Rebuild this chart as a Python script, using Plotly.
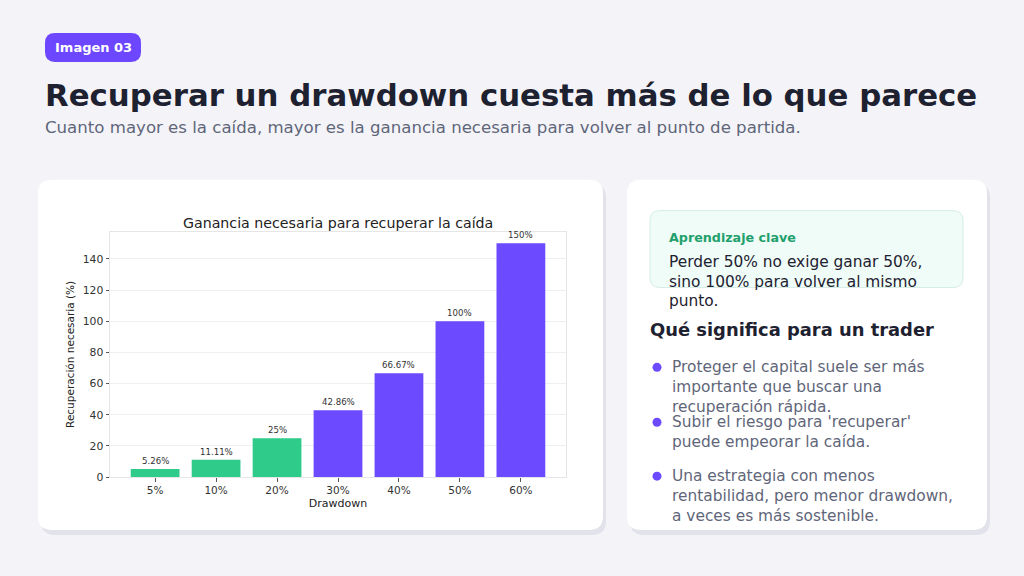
import plotly.graph_objects as go

W, H = 1024, 576
H_EFF = 570  # rendered vertical extent of the paper in the screenshot
FONT = "DejaVu Sans"

# ---- data ----
drawdown = ["5%", "10%", "20%", "30%", "40%", "50%", "60%"]
recovery = [5.26, 11.11, 25, 42.86, 66.67, 100, 150]
labels = ["5.26%", "11.11%", "25%", "42.86%", "66.67%", "100%", "150%"]
y_ticks = [0, 20, 40, 60, 80, 100, 120, 140]

GREEN = "#2ecb8b"
PURPLE = "#6c4aff"
colors = [GREEN if v < 30 else PURPLE for v in recovery]

def px(x):
    return x / W

def py(y):
    return 1 - y / H_EFF

def rrect(x0, y0, x1, y1, r):
    X0, X1 = px(x0), px(x1)
    Y0, Y1 = py(y0), py(y1)
    rx, ry = r / W, r / H_EFF
    return (f"M {X0+rx},{Y0} L {X1-rx},{Y0} Q {X1},{Y0} {X1},{Y0-ry} "
            f"L {X1},{Y1+ry} Q {X1},{Y1} {X1-rx},{Y1} L {X0+rx},{Y1} "
            f"Q {X0},{Y1} {X0},{Y1+ry} L {X0},{Y0-ry} Q {X0},{Y0} {X0+rx},{Y0} Z")

fig = go.Figure()
fig.add_trace(go.Bar(
    x=drawdown, y=recovery, marker=dict(color=colors, line=dict(width=0)),
    width=0.8, hoverinfo="skip",
))

shapes = []
# cards with shadows
for (x0, y0, x1, y1) in [(38, 180, 603, 531), (627, 180, 987, 531)]:
    shapes.append(dict(type="path", path=rrect(x0 + 3, y0 + 4, x1 + 3, y1 + 5, 14),
                       xref="paper", yref="paper", fillcolor="#e1e2ea", line=dict(width=0), layer="below"))
    shapes.append(dict(type="path", path=rrect(x0, y0, x1, y1, 14),
                       xref="paper", yref="paper", fillcolor="#ffffff", line=dict(width=0), layer="below"))
# badge
shapes.append(dict(type="path", path=rrect(45, 33, 141, 62, 10), xref="paper", yref="paper",
                   fillcolor="#6c47ff", line=dict(width=0), layer="below"))
# key box
shapes.append(dict(type="path", path=rrect(650, 211, 963, 288, 10), xref="paper", yref="paper",
                   fillcolor="#effcf8", line=dict(width=1, color="#d6ede6"), layer="below"))

ann = []
# bar value labels (positioned through the data axes)
for cat, val, lab in zip(drawdown, recovery, labels):
    ann.append(dict(x=cat, y=val, xref="x", yref="y", text=lab, showarrow=False,
                    xanchor="center", yanchor="bottom", yshift=1,
                    font=dict(family=FONT, size=8.6, color="#333333")))

def txt(x, y, s, size, color, bold=False, xanchor="left", yanchor="middle"):
    ann.append(dict(x=px(x), y=py(y), xref="paper", yref="paper", text=(f"<b>{s}</b>" if bold else s),
                    showarrow=False, xanchor=xanchor, yanchor=yanchor,
                    font=dict(family=FONT, size=size, color=color)))

txt(93, 48, "Imagen 03", 13, "#ffffff", bold=True, xanchor="center")
txt(43, 95, "Recuperar un drawdown cuesta más de lo que parece", 30.8, "#1e2130", bold=True)
txt(43, 128, "Cuanto mayor es la caída, mayor es la ganancia necesaria para volver al punto de partida.", 16.6, "#5f667a")

txt(338, 223, "Ganancia necesaria para recuperar la caída", 14.2, "#222222", xanchor="center")

txt(667, 238, "Aprendizaje clave", 12.7, "#1fa06c", bold=True)
for i, line in enumerate(["Perder 50% no exige ganar 50%,", "sino 100% para volver al mismo", "punto."]):
    txt(667, 262 + 20 * i, line, 15.4, "#1e2130")
txt(648, 330, "Qué significa para un trader", 17.9, "#1e2130", bold=True)

bullets = [
    (368, ["Proteger el capital suele ser más", "importante que buscar una", "recuperación rápida."]),
    (423, ["Subir el riesgo para 'recuperar'", "puede empeorar la caída."]),
    (477, ["Una estrategia con menos", "rentabilidad, pero menor drawdown,", "a veces es más sostenible."]),
]
for y0, lines in bullets:
    shapes.append(dict(type="circle", xref="paper", yref="paper",
                       x0=px(652.5), x1=px(661.5), y0=py(y0 + 4.5), y1=py(y0 - 4.5),
                       fillcolor="#6c4aff", line=dict(width=0)))
    for i, line in enumerate(lines):
        txt(670, y0 + 20 * i, line, 15.4, "#5f667a")

fig.update_layout(
    width=W, height=H, margin=dict(l=0, r=0, t=0, b=0),
    paper_bgcolor="#f4f4f8", plot_bgcolor="#ffffff",
    shapes=shapes, annotations=ann, showlegend=False, bargap=0.2,
    xaxis=dict(domain=[px(110), px(566)], range=[-0.74, 6.74], showgrid=False,
               ticks="outside", ticklen=3.5, tickcolor="#555555",
               tickfont=dict(family=FONT, size=10.5, color="#333333"),
               title=dict(text="Drawdown", font=dict(family=FONT, size=11, color="#222222"), standoff=4),
               showline=True, linecolor="#e6e6e6", mirror=True, zeroline=False),
    yaxis=dict(domain=[py(478), py(232)], range=[0, 157.5], tickvals=y_ticks,
               showgrid=True, gridcolor="#efeff2", gridwidth=1,
               ticks="outside", ticklen=3.5, tickcolor="#555555",
               tickfont=dict(family=FONT, size=10.8, color="#333333"),
               title=dict(text="Recuperación necesaria (%)", font=dict(family=FONT, size=10.5, color="#222222"), standoff=6),
               showline=True, linecolor="#e6e6e6", mirror=True, zeroline=False),
)
fig.write_html("out.html")
